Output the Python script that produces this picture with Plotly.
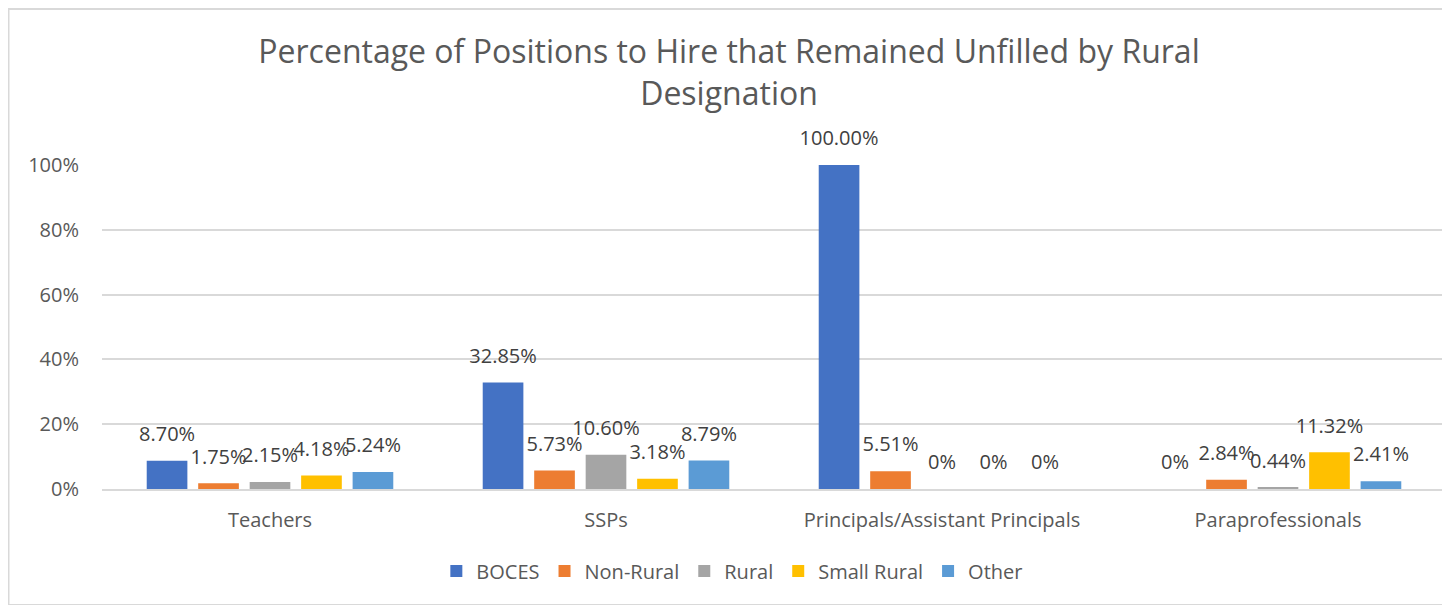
import plotly.graph_objects as go

categories = ["Teachers", "SSPs", "Principals/Assistant Principals", "Paraprofessionals"]
series_names = ["BOCES", "Non-Rural", "Rural", "Small Rural", "Other"]
boces = [0.0870, 0.3285, 1.0000, 0.0]
non_rural = [0.0175, 0.0573, 0.0551, 0.0284]
rural = [0.0215, 0.1060, 0.0, 0.0044]
small_rural = [0.0418, 0.0318, 0.0, 0.1132]
other = [0.0524, 0.0879, 0.0, 0.0241]
colors = ["#4472C4", "#ED7D31", "#A5A5A5", "#FFC000", "#5B9BD5"]

FONT = "'Open Sans', sans-serif"
TXT = "#595959"
FS = 20
GAP = 0.234

def fmt(v):
    return "0%" if v == 0 else f"{v*100:.2f}%"

all_series = [boces, non_rural, rural, small_rural, other]
fig = go.Figure()
for name, vals, col in zip(series_names, all_series, colors):
    fig.add_trace(go.Bar(
        x=categories, y=vals, name=name, marker_color=col,
        marker_line_width=0, hoverinfo="skip",
    ))
# data labels placed above each bar (grouped the same way as the bars)
for name, vals in zip(series_names, all_series):
    fig.add_trace(go.Scatter(
        x=categories, y=vals, mode="markers+text", showlegend=False,
        text=[fmt(v) for v in vals], textposition="top center",
        marker=dict(size=22, opacity=0), cliponaxis=False,
        textfont=dict(family=FONT, size=FS, color="#404040"), hoverinfo="skip",
    ))

W, H = 1442, 597
fig.update_layout(
    width=W, height=H,
    margin=dict(l=94, r=4, t=157, b=116, autoexpand=False),
    paper_bgcolor="white", plot_bgcolor="white",
    barmode="group", bargap=GAP, bargroupgap=0.21,
    scattermode="group", scattergap=GAP,
    font=dict(family=FONT, color=TXT, size=FS),
    title=dict(text="Percentage of Positions to Hire that Remained Unfilled by Rural<br>Designation",
               x=0.5, xanchor="center", y=1 - 55/H, yanchor="top",
               font=dict(family=FONT, size=32, color=TXT)),
    legend=dict(orientation="h", x=0.469, xanchor="center", y=-0.253, yanchor="middle",
                font=dict(family=FONT, size=FS, color=TXT), traceorder="normal"),
    showlegend=True,
)
fig.update_yaxes(range=[0, 1], tickvals=[0, 0.2, 0.4, 0.6, 0.8, 1.0], tickformat=".0%",
                 gridcolor="#D9D9D9", gridwidth=1.5, zeroline=False, showline=False,
                 ticks="", ticklabelstandoff=22, tickfont=dict(size=FS, color=TXT))
fig.update_xaxes(showline=True, linecolor="#D9D9D9", linewidth=1.5, ticks="",
                 tickfont=dict(size=FS, color=TXT), ticklabelstandoff=12)
fig.add_shape(type="rect", xref="paper", yref="paper",
              x0=-93.5/1344, x1=1+(W-0.5-1438)/1344, y0=-(H-481)/324, y1=1+(157-1)/324,
              line=dict(color="#D9D9D9", width=2), fillcolor="rgba(0,0,0,0)", layer="below")

fig.write_html("out.html")
